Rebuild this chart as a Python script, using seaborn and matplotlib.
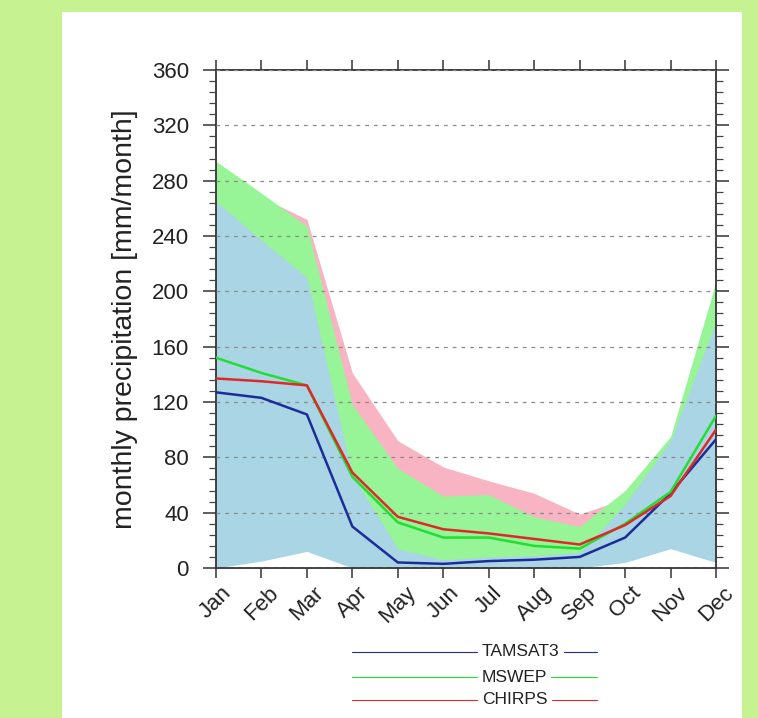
import numpy as np
import pandas as pd
import matplotlib
matplotlib.use("Agg")
import matplotlib.pyplot as plt
import matplotlib.transforms as mtransforms
from matplotlib.lines import Line2D
from matplotlib.patches import Rectangle
from matplotlib.ticker import MultipleLocator
import seaborn as sns


months = ["Jan", "Feb", "Mar", "Apr", "May", "Jun", "Jul", "Aug", "Sep", "Oct", "Nov", "Dec"]
datasets = ["TAMSAT3", "MSWEP", "CHIRPS"]

# ensemble means
tamsat = [127, 123, 111, 30, 4, 3, 5, 6, 8, 22, 54, 93]
mswep = [152, 141, 132, 66, 33, 22, 22, 16, 14, 32, 55, 110]
chirps = [137, 135, 132, 69, 37, 28, 25, 21, 17, 31, 52, 100]

# spread (min / max)
tamsat_lo = [0, 5, 12, 0, 0, 0, 0, 0, 0, 4, 14, 4]
tamsat_hi = [265, 237, 210, 67, 14, 6, 8, 9, 11, 46, 92, 178]
mswep_lo = [60, 50, 45, 20, 5, 3, 3, 3, 3, 10, 25, 50]
mswep_hi = [294, 271, 247, 118, 72, 52, 53, 37, 30, 56, 95, 207]
chirps_lo = [50, 45, 40, 15, 5, 3, 3, 3, 3, 10, 25, 45]
chirps_hi = [290, 268, 252, 141, 92, 73, 63, 54, 39, 50, 88, 195]

line_colors = {"TAMSAT3": "#1c2c98", "MSWEP": "#22dd33", "CHIRPS": "#e02828"}

sns.set_style("ticks")
plt.rcParams['font.family'] = ['Liberation Sans', 'DejaVu Sans']

df = pd.DataFrame({
    "month": list(range(12)) * 3,
    "value": tamsat + mswep + chirps,
    "dataset": [d for d in datasets for _ in range(12)],
})

fig = plt.figure(figsize=(7.58, 7.18), dpi=100, facecolor="#c6f291")
fig.add_artist(Rectangle((62 / 758, 0), (742 - 62) / 758, 706 / 718,
                         transform=fig.transFigure, facecolor="white",
                         edgecolor="none", zorder=-1))

ax = fig.add_axes([216 / 758, 1 - 568 / 718, 500 / 758, 498 / 718])

x = np.arange(12)
ax.fill_between(x, chirps_lo, chirps_hi, color="#f8b4c2", lw=0, zorder=1)
ax.fill_between(x, mswep_lo, mswep_hi, color="#97f497", lw=0, zorder=1.1)
ax.fill_between(x, tamsat_lo, tamsat_hi, color="#aad5e4", lw=0, zorder=1.2)

sns.lineplot(data=df, x="month", y="value", hue="dataset", hue_order=datasets,
             palette=line_colors, lw=1.8, legend=False, ax=ax, zorder=3)

ax.set_xlim(0, 11)
ax.set_ylim(0, 360)
ax.set_axisbelow(False)
ax.yaxis.grid(True, linestyle=(0, (3, 4)), color="#8a8a8a", lw=0.9)

ax.yaxis.set_major_locator(MultipleLocator(40))
ax.yaxis.set_minor_locator(MultipleLocator(8))
ax.set_xticks(x)
ax.set_xticklabels(months, rotation=45, ha="center", fontsize=16, color="#222222")
offset = mtransforms.ScaledTranslation(11 / 100, 0, fig.dpi_scale_trans)
for lab in ax.get_xticklabels():
    lab.set_transform(lab.get_transform() + offset)

ax.tick_params(axis="x", which="major", direction="out", top=True, bottom=True,
               length=7.5, width=1.1, color="#333333", pad=3)
ax.tick_params(axis="y", which="major", direction="out", left=True, right=True,
               length=9.5, width=1.1, color="#333333", labelsize=16,
               labelcolor="#222222", pad=10)
ax.tick_params(axis="y", which="minor", direction="out", left=True, right=True,
               length=5, width=0.9, color="#444444")

for s in ax.spines.values():
    s.set_visible(True)
    s.set_color("#333333")
    s.set_linewidth(1.3)

ax.set_xlabel("")
ax.set_ylabel("monthly precipitation [mm/month]", fontsize=20.5, color="#222222", labelpad=10)

# NCL-style legend below the plot
fig.canvas.draw()
renderer = fig.canvas.get_renderer()
rows_y = [652, 677, 700]
for name, yy in zip(datasets, rows_y):
    yf = 1 - yy / 718
    t = fig.text(482 / 758, yf, name, fontsize=12.5, color="#222222",
                 ha="left", va="center")
    fig.add_artist(Line2D([352 / 758, 477 / 758], [yf, yf], transform=fig.transFigure,
                          color=line_colors[name], lw=0.8))
    bb = t.get_window_extent(renderer)
    fig.add_artist(Line2D([(bb.x1 + 4) / 758, 597 / 758], [yf, yf], transform=fig.transFigure,
                          color=line_colors[name], lw=0.8))

fig.savefig("out.png", dpi=100, facecolor=fig.get_facecolor())
